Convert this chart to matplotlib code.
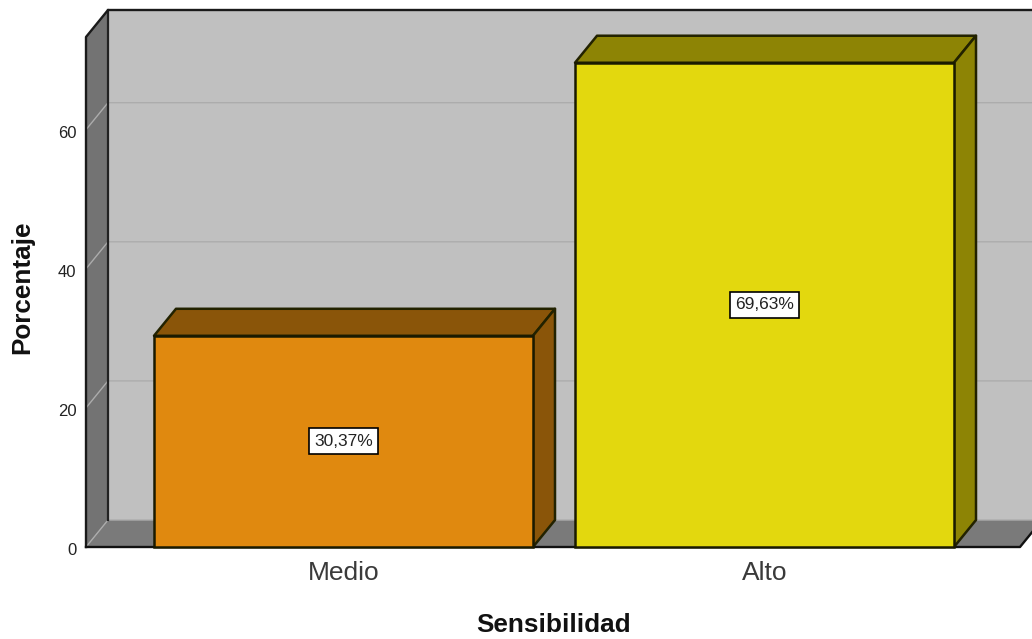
import matplotlib
matplotlib.use('Agg')
import matplotlib.pyplot as plt
from matplotlib.patches import Polygon
from matplotlib.transforms import ScaledTranslation

categories = ['Medio', 'Alto']
percentages = [30.37, 69.63]
value_labels = ['30,37%', '69,63%']
y_ticks = [0, 20, 40, 60]

bar_colors = ['#e0890f', '#e3d80e']
shade_colors = ['#8a5509', '#8d8405']
WALL = '#c0c0c0'
SIDE = '#737373'
FLOOR = '#7a7a7a'
GRID = '#acacac'

plt.rcParams['font.family'] = ['Liberation Sans', 'DejaVu Sans']

W, H = 1032, 639
fig = plt.figure(figsize=(W / 100, H / 100), dpi=100)
# axes runs from the front left corner of the 3D box to the image edge
ax = fig.add_axes([86 / W, (H - 547) / H, 946 / W, 537 / H])

x_scale = 421.0   # pixels per category
y_scale = 6.955   # pixels per percent
x_min = (86 - 343.5) / x_scale
x_max = (1032 - 343.5) / x_scale
x_end = (1020 - 343.5) / x_scale
y_max = 537 / y_scale
dx = 22 / x_scale
dy = 27 / y_scale
bar_width = 379 / x_scale

ax.set_xlim(x_min, x_max)
ax.set_ylim(0, y_max)
for spine in ax.spines.values():
    spine.set_visible(False)
ax.patch.set_visible(False)


def add_poly(points, color, edge='none', lw=0, z=1):
    ax.add_patch(Polygon(points, closed=True, facecolor=color, edgecolor=edge,
                         linewidth=lw, clip_on=False, zorder=z, joinstyle='round'))


# back wall, left wall, floor
top = y_max - dy
add_poly([(x_min + dx, dy), (x_end + dx, dy), (x_end + dx, y_max), (x_min + dx, y_max)], WALL, z=1)
add_poly([(x_min, 0), (x_min + dx, dy), (x_min + dx, y_max), (x_min, top)], SIDE, z=1)
add_poly([(x_min, 0), (x_min + dx, dy), (x_end + dx, dy), (x_end, 0)], FLOOR, z=1)

# grid lines run along the wall and down the side
for t in y_ticks:
    ax.plot([x_min, x_min + dx, x_end + dx], [t, t + dy, t + dy], color=GRID,
            lw=1.0, clip_on=False, zorder=2)

# box outline
ax.plot([x_min + dx, x_min + dx], [dy, y_max], color='#222222', lw=1.6, clip_on=False, zorder=3)
ax.plot([x_min, x_min, x_min + dx, x_end + dx], [0, top, y_max, y_max], color='#1a1a1a',
        lw=1.7, clip_on=False, zorder=3)
ax.plot([x_min, x_end, x_end + dx], [0, 0, dy], color='#111111', lw=1.7, clip_on=False, zorder=3)

# bars with their top and side faces
for i, val in enumerate(percentages):
    left, right = i - bar_width / 2, i + bar_width / 2
    add_poly([(left, val), (left + dx, val + dy), (right + dx, val + dy), (right, val)],
             shade_colors[i], '#222200', 1.8, 4)
    add_poly([(right, 0), (right + dx, dy), (right + dx, val + dy), (right, val)],
             shade_colors[i], '#222200', 1.8, 4)
    ax.bar(i, val, width=bar_width, color=bar_colors[i], edgecolor='#1a1a00',
           linewidth=1.8, zorder=5, clip_on=False)
    ax.text(i, val / 2, value_labels[i], ha='center', va='center', fontsize=12.5,
            color='#222222', zorder=6,
            bbox=dict(boxstyle='square,pad=0.32', facecolor='white', edgecolor='black', linewidth=1.2))

ax.set_xticks(range(len(categories)))
ax.set_xticklabels(categories, fontsize=19, color='#3a3a3a')
ax.set_yticks(y_ticks)
ax.set_yticklabels([str(t) for t in y_ticks], fontsize=12, color='#222222')
ax.tick_params(axis='both', length=0)
ax.tick_params(axis='x', pad=10)
ax.tick_params(axis='y', pad=7)

# the y labels sit a little below their grid level
nudge = ScaledTranslation(0, -2 / 100, fig.dpi_scale_trans)
for label in ax.get_yticklabels():
    label.set_transform(label.get_transform() + nudge)

ax.set_xlabel('Sensibilidad', fontsize=18.8, fontweight='bold', color='#111111')
ax.set_ylabel('Porcentaje', fontsize=18.8, fontweight='bold', color='#111111')
ax.xaxis.set_label_coords(0.494, -0.145)
ax.yaxis.set_label_coords(-0.0675, 0.483)
ax.yaxis.label.set_va('center')
ax.xaxis.label.set_va('center')

fig.savefig('out.png', dpi=100, facecolor='white')
